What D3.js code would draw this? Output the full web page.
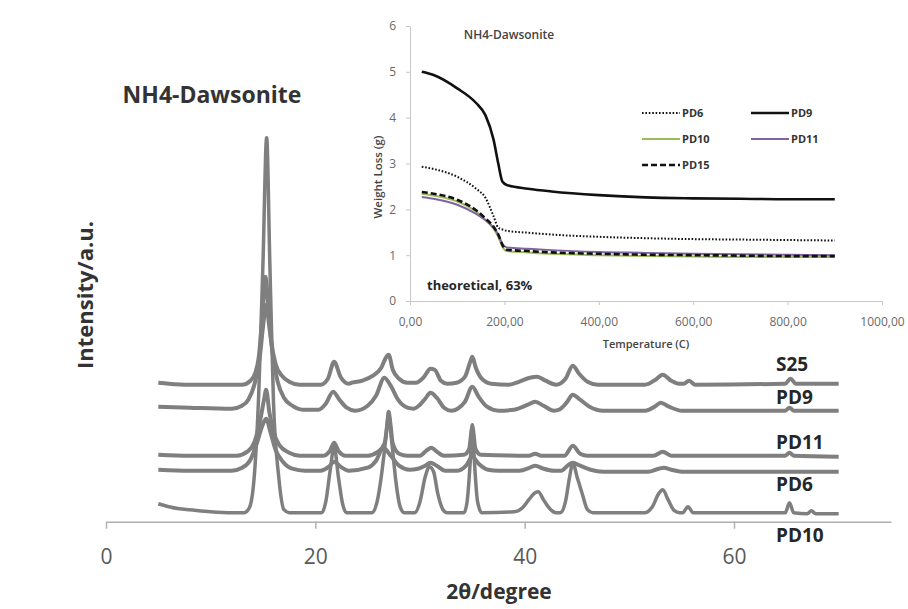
<!DOCTYPE html>
<html>
<head>
<meta charset="utf-8">
<script src="https://cdn.jsdelivr.net/npm/d3@7"></script>
<style>
  html, body { margin: 0; padding: 0; background: #ffffff; }
  svg { display: block; }
</style>
</head>
<body>
<div id="chart"></div>
<script>
// ---------------- DATA: XRD patterns (2θ in degree, intensity in a.u., stacked) ----------------
const xrdTicks = [0, 20, 40, 60];
const xrdNames = ["S25", "PD9", "PD11", "PD6", "PD10"];

const xrdS25 = [
  [5, 139], [6, 138], [8, 137], [12, 137], [13.0, 137], [13.8, 141], [14.3, 150], [14.6, 165], [14.9, 200],
  [15.25, 245], [15.5, 215], [15.8, 180], [16.2, 158], [16.8, 146], [17.5, 140], [18.5, 137],
  [20.5, 137], [21.2, 143], [21.8, 160], [22.4, 145], [23.2, 138],
  [23.5, 139], [24.5, 141], [25.5, 146], [26.3, 154], [26.8, 165], [27.0, 167], [27.4, 152], [28.0, 143], [28.8, 139],
  [29.6, 139], [30.4, 145], [31.0, 153], [31.4, 152], [32.0, 141], [32.6, 138],
  [33.5, 139], [34.3, 145], [34.8, 160], [35.0, 165], [35.3, 155], [35.9, 143], [36.8, 138],
  [38.5, 137], [39.5, 140], [40.5, 144], [41.2, 145], [42.0, 141], [43.0, 137],
  [43.9, 143], [44.6, 156], [45.2, 148], [46.0, 140], [47.0, 137],
  [51.5, 137], [52.5, 142], [53.2, 147], [54.0, 141], [54.7, 138],
  [55.2, 138], [55.7, 141], [56.3, 137], [64.9, 138], [65.4, 143], [65.9, 138], [70, 138]
];
const xrdPD9 = [
  [5, 115], [8, 114], [12.0, 113], [13.0, 116], [13.6, 122], [14.2, 138], [14.7, 165], [15.0, 195],
  [15.3, 217], [15.6, 195], [16.0, 162], [16.4, 140], [17.0, 124], [17.8, 116], [18.8, 112],
  [20.3, 112], [21.0, 118], [21.7, 130], [22.3, 122], [23.0, 114], [23.8, 111],
  [25.0, 116], [25.8, 126], [26.6, 144], [27.2, 136], [27.9, 122], [28.8, 114], [29.4, 113],
  [30.0, 117], [30.5, 123], [31.0, 129], [31.6, 124], [32.3, 114], [33.0, 111],
  [33.6, 113], [34.3, 120], [35.0, 135], [35.6, 125], [36.4, 115], [37.5, 111],
  [39.0, 112], [40.3, 117], [41.0, 120], [41.8, 116], [42.8, 111],
  [43.3, 112], [44.0, 119], [44.6, 127], [45.3, 122], [46.2, 115], [47.5, 111],
  [51.5, 111], [52.4, 115], [53.0, 119], [53.8, 115], [55.0, 111],
  [64.9, 111], [65.3, 114], [65.7, 111], [70, 111]
];
const xrdPD11 = [
  [5, 67], [8, 66], [12.5, 66], [13.5, 70], [14.2, 80], [14.7, 100], [15.1, 122], [15.3, 132],
  [15.6, 110], [16.0, 90], [16.6, 76], [17.5, 69], [18.5, 66],
  [20.8, 66], [21.4, 71], [21.8, 79], [22.2, 71], [22.9, 66],
  [25.0, 66], [26.0, 70], [26.6, 78], [26.9, 100], [27.0, 110], [27.15, 100], [27.4, 78], [28.0, 68], [28.8, 66],
  [30.0, 66], [30.6, 71], [31.1, 74], [31.6, 70], [32.3, 66],
  [34.2, 67], [34.7, 73], [35.0, 95], [35.3, 73], [35.8, 67],
  [40.4, 66], [41.0, 68], [41.6, 66],
  [43.8, 66], [44.6, 76], [45.3, 68], [46.0, 66],
  [52.3, 66], [53.2, 70], [54.0, 66],
  [64.9, 66], [65.3, 69], [65.7, 66], [70, 65]
];
const xrdPD6 = [
  [5, 52], [8, 51], [12.0, 51], [13.0, 54], [13.8, 62], [14.4, 78], [14.9, 95], [15.3, 103],
  [15.7, 90], [16.2, 72], [16.9, 60], [17.8, 53], [19.0, 51],
  [20.5, 51], [21.3, 55], [21.8, 60], [22.4, 55], [23.2, 51],
  [25.0, 54], [25.8, 61], [26.5, 74], [27.2, 66], [28.0, 56], [29.0, 52],
  [29.8, 53], [30.5, 56], [31.0, 59], [31.6, 56], [32.4, 51],
  [33.6, 51], [34.4, 56], [35.0, 65], [35.6, 58], [36.5, 52], [37.5, 51],
  [39.5, 51], [40.5, 54], [41.0, 56], [41.8, 53], [42.8, 51],
  [43.5, 51], [44.1, 56], [44.6, 59], [45.3, 56], [46.3, 52], [47.5, 50],
  [51.8, 50], [52.8, 53], [53.3, 54], [54.0, 52], [55.0, 50], [70, 50]
];
const xrdPD10 = [
  [5, 18], [6, 15], [7, 13], [8, 12], [10, 10], [12, 9], [13.2, 9], [13.7, 14], [14.2, 50], [14.6, 130],
  [15.0, 260], [15.35, 384], [15.65, 260], [16.0, 120], [16.5, 45], [17.0, 12], [17.5, 9],
  [20.6, 9], [21.0, 20], [21.4, 50], [21.8, 75], [22.2, 45], [22.6, 18], [23.0, 9],
  [25.4, 9], [25.9, 20], [26.3, 45], [26.7, 80], [27.0, 107], [27.3, 80], [27.7, 40], [28.1, 15], [28.5, 9],
  [29.5, 9], [30.0, 20], [30.5, 45], [30.9, 55], [31.3, 50], [31.7, 28], [32.2, 12], [32.6, 9],
  [34.2, 9], [34.5, 20], [34.8, 60], [35.0, 97], [35.2, 60], [35.5, 20], [35.9, 9],
  [39.0, 10], [39.8, 14], [40.4, 22], [41.0, 29], [41.3, 30], [41.8, 22], [42.4, 13], [43.0, 9],
  [43.4, 9], [43.9, 20], [44.3, 45], [44.6, 59], [45.0, 45], [45.5, 28], [46.0, 12], [46.5, 9],
  [51.5, 9], [52.2, 15], [52.8, 28], [53.2, 32], [53.7, 22], [54.3, 11], [54.8, 9],
  [55.1, 9], [55.6, 15], [56.1, 9], [64.9, 9], [65.3, 19], [65.7, 9], [67.0, 8], [67.4, 11], [67.8, 8], [70, 8]
];

// ---------------- DATA: TGA inset (temperature °C, weight loss g) ----------------
const tgaTemp = [25, 50, 100, 140, 160, 177, 187, 196, 205, 250, 300, 400, 500, 600, 700, 800, 900];
const tgaPD6  = [2.93, 2.88, 2.71, 2.45, 2.25, 1.85, 1.60, 1.56, 1.53, 1.49, 1.45, 1.40, 1.37, 1.35, 1.34, 1.33, 1.32];
const tgaPD9  = [5.00, 4.93, 4.64, 4.32, 4.05, 3.52, 3.00, 2.60, 2.53, 2.45, 2.39, 2.31, 2.26, 2.24, 2.23, 2.22, 2.22];
const tgaPD10 = [2.34, 2.30, 2.17, 1.95, 1.77, 1.58, 1.40, 1.18, 1.09, 1.06, 1.03, 1.00, 0.98, 0.97, 0.96, 0.96, 0.96];
const tgaPD11 = [2.27, 2.23, 2.10, 1.90, 1.76, 1.60, 1.45, 1.24, 1.17, 1.14, 1.11, 1.07, 1.05, 1.03, 1.02, 1.01, 1.00];
const tgaPD15 = [2.38, 2.34, 2.21, 1.98, 1.80, 1.62, 1.45, 1.22, 1.12, 1.09, 1.06, 1.03, 1.01, 1.00, 0.99, 0.98, 0.98];
const tgaXTicks = [0, 200, 400, 600, 800, 1000];
const tgaYTicks = [0, 1, 2, 3, 4, 5, 6];

// ---------------- LAYOUT ----------------
const W = 908, H = 609;
const FONT = "'Open Sans', 'DejaVu Sans', sans-serif";
const svg = d3.select("#chart").append("svg").attr("width", W).attr("height", H);
svg.append("rect").attr("width", W).attr("height", H).attr("fill", "#ffffff");

// ---- Main XRD chart ----
const xMain = d3.scaleLinear().domain([0, 75]).range([106, 891]);
const yMain = d3.scaleLinear().domain([0, 400]).range([521.7, 121.7]);

const xrdSeries = [
  { name: "S25",  data: xrdS25,  width: 4,   labelDy: -20 },
  { name: "PD9",  data: xrdPD9,  width: 4,   labelDy: -14 },
  { name: "PD11", data: xrdPD11, width: 4,   labelDy: -15 },
  { name: "PD6",  data: xrdPD6,  width: 4,   labelDy: 12 },
  { name: "PD10", data: xrdPD10, width: 3.5, labelDy: 21 }
];

const xrdLine = d3.line()
  .x(d => xMain(d[0]))
  .y(d => yMain(d[1]))
  .curve(d3.curveMonotoneX);

const mainAxis = svg.append("g")
  .attr("transform", `translate(0,${yMain(0)})`)
  .call(d3.axisBottom(xMain).tickValues(xrdTicks).tickSize(7).tickSizeOuter(0).tickPadding(20).tickFormat(d3.format("d")));
mainAxis.select(".domain").attr("stroke", "#b0b0b0").attr("stroke-width", 1.5);
mainAxis.selectAll(".tick line").attr("stroke", "#b0b0b0").attr("stroke-width", 1.5);
mainAxis.selectAll(".tick text").attr("fill", "#595959").attr("font-family", FONT).attr("font-size", 21);

svg.append("g").selectAll("path.xrd")
  .data(xrdSeries)
  .join("path")
  .attr("class", "xrd")
  .attr("d", d => xrdLine(d.data))
  .attr("fill", "none")
  .attr("stroke", "#7f7f7f")
  .attr("stroke-width", d => d.width)
  .attr("stroke-linejoin", "round");

svg.append("g").selectAll("text.slabel")
  .data(xrdSeries)
  .join("text")
  .attr("class", "slabel")
  .attr("x", 776)
  .attr("y", d => yMain(d.data[d.data.length - 1][1]) + d.labelDy)
  .attr("dy", "0.36em")
  .attr("font-family", FONT)
  .attr("font-weight", "bold")
  .attr("font-size", 19)
  .attr("fill", "#262626")
  .text(d => d.name);

svg.append("text")
  .attr("x", 212).attr("y", 95).attr("dy", "0.36em")
  .attr("text-anchor", "middle")
  .attr("font-family", FONT).attr("font-weight", "bold").attr("font-size", 23)
  .attr("fill", "#333333")
  .text("NH4-Dawsonite");

svg.append("text")
  .attr("transform", "translate(85,295) rotate(-90)")
  .attr("dy", "0.36em")
  .attr("text-anchor", "middle")
  .attr("font-family", FONT).attr("font-weight", "bold").attr("font-size", 22)
  .attr("fill", "#333333")
  .text("Intensity/a.u.");

svg.append("text")
  .attr("x", 499).attr("y", 591).attr("dy", "0.36em")
  .attr("text-anchor", "middle")
  .attr("font-family", FONT).attr("font-weight", "bold").attr("font-size", 21)
  .attr("fill", "#333333")
  .text("2θ/degree");

// ---- Inset TGA chart ----
const inset = svg.append("g");
inset.append("rect").attr("x", 352).attr("y", 2).attr("width", 554).attr("height", 350)
  .attr("fill", "#ffffff");

const xIn = d3.scaleLinear().domain([0, 1000]).range([410, 882]);
const yIn = d3.scaleLinear().domain([0, 6]).range([301, 26]);
const commaFmt = d => d3.format(".2f")(d).replace(".", ",");

const xAxIn = inset.append("g").attr("transform", `translate(0,${yIn(0)})`)
  .call(d3.axisBottom(xIn).tickValues(tgaXTicks).tickSize(4).tickSizeOuter(0).tickPadding(12).tickFormat(commaFmt));
const yAxIn = inset.append("g").attr("transform", `translate(${xIn(0)},0)`)
  .call(d3.axisLeft(yIn).tickValues(tgaYTicks).tickSize(4).tickSizeOuter(0).tickPadding(10).tickFormat(d3.format("d")));
[xAxIn, yAxIn].forEach(a => {
  a.select(".domain").attr("stroke", "#c8c8c8").attr("stroke-width", 1);
  a.selectAll(".tick line").attr("stroke", "#c8c8c8");
  a.selectAll(".tick text").attr("fill", "#6a6a6a").attr("font-family", FONT).attr("font-size", 12);
});

const tgaSeries = [
  { name: "PD6",  values: tgaPD6,  color: "#111111", width: 2,   dash: "1.6,1.8" },
  { name: "PD9",  values: tgaPD9,  color: "#111111", width: 2.6, dash: null },
  { name: "PD10", values: tgaPD10, color: "#9bbb59", width: 2,   dash: null },
  { name: "PD11", values: tgaPD11, color: "#8064a2", width: 2,   dash: null },
  { name: "PD15", values: tgaPD15, color: "#111111", width: 2.6, dash: "6,3" }
];

const tgaLine = d3.line()
  .x((d, i) => xIn(tgaTemp[i]))
  .y(d => yIn(d))
  .curve(d3.curveMonotoneX);

inset.append("g").selectAll("path.tga")
  .data(tgaSeries)
  .join("path")
  .attr("class", "tga")
  .attr("d", d => tgaLine(d.values))
  .attr("fill", "none")
  .attr("stroke", d => d.color)
  .attr("stroke-width", d => d.width)
  .attr("stroke-dasharray", d => d.dash);

// legend (2 columns)
const legend = inset.append("g").selectAll("g.leg")
  .data(tgaSeries)
  .join("g")
  .attr("class", "leg")
  .attr("transform", (d, i) => `translate(${642 + (i % 2) * 109},${113 + Math.floor(i / 2) * 26})`);
legend.append("line")
  .attr("x1", 0).attr("x2", 38).attr("y1", 0).attr("y2", 0)
  .attr("stroke", d => d.color)
  .attr("stroke-width", d => d.width)
  .attr("stroke-dasharray", d => d.dash);
legend.append("text")
  .attr("x", 40).attr("y", 0).attr("dy", "0.36em")
  .attr("font-family", FONT).attr("font-weight", "bold").attr("font-size", 11)
  .attr("fill", "#333333")
  .text(d => d.name);

inset.append("text")
  .attr("x", 509).attr("y", 35).attr("dy", "0.36em")
  .attr("text-anchor", "middle")
  .attr("font-family", FONT).attr("font-weight", 600).attr("font-size", 12)
  .attr("fill", "#444444")
  .text("NH4-Dawsonite");

inset.append("text")
  .attr("x", 427).attr("y", 285).attr("dy", "0.36em")
  .attr("font-family", FONT).attr("font-weight", "bold").attr("font-size", 13)
  .attr("fill", "#262626")
  .text("theoretical, 63%");

inset.append("text")
  .attr("transform", "translate(378,177) rotate(-90)")
  .attr("dy", "0.36em")
  .attr("text-anchor", "middle")
  .attr("font-family", FONT).attr("font-weight", 600).attr("font-size", 11.5)
  .attr("fill", "#444444")
  .text("Weight Loss (g)");

inset.append("text")
  .attr("x", 646).attr("y", 344).attr("dy", "0.36em")
  .attr("text-anchor", "middle")
  .attr("font-family", FONT).attr("font-weight", 600).attr("font-size", 11)
  .attr("fill", "#444444")
  .text("Temperature (C)");
</script>
</body>
</html>
